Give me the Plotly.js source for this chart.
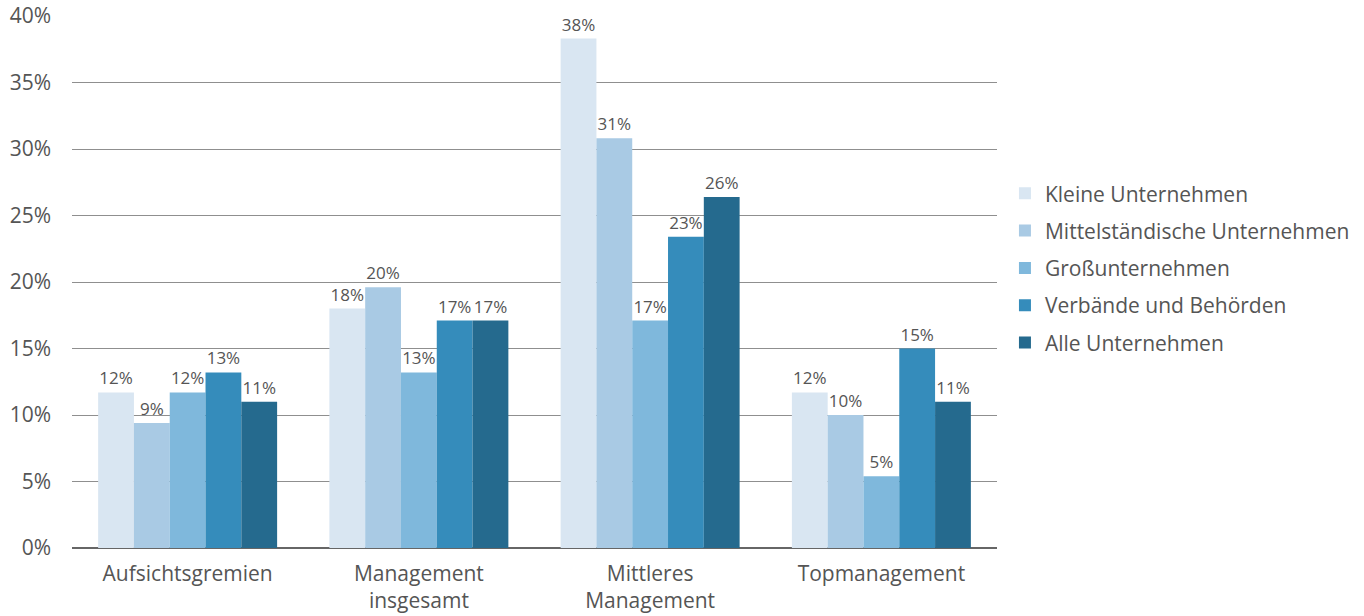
<!DOCTYPE html>
<html>
<head>
<meta charset="utf-8">
<script src="https://cdn.plot.ly/plotly-3.0.1.min.js"></script>
<style>html,body{margin:0;padding:0;background:#fff;}#chart{width:1364px;height:616px;}</style>
</head>
<body>
<div id="chart"></div>
<script>
const categories = ["Aufsichtsgremien", "Management<br>insgesamt", "Mittleres<br>Management", "Topmanagement"];
const seriesNames = ["Kleine Unternehmen", "Mittelständische Unternehmen", "Großunternehmen", "Verbände und Behörden", "Alle Unternehmen"];
const kleine = [11.7, 18.0, 38.3, 11.7];
const mittel = [9.4, 19.6, 30.8, 10.0];
const gross = [11.7, 13.2, 17.1, 5.4];
const verbaende = [13.2, 17.1, 23.4, 15.0];
const alle = [11.0, 17.1, 26.4, 11.0];
const colors = ["#d9e6f2", "#a9cae4", "#7fb8dc", "#358cbb", "#256a8e"];
const yTicks = [0, 5, 10, 15, 20, 25, 30, 35, 40];

const FONT = "Open Sans, sans-serif";
const seriesData = [kleine, mittel, gross, verbaende, alle];
const traces = seriesData.map((vals, i) => ({
  type: "bar",
  name: seriesNames[i],
  x: categories,
  y: vals,
  text: vals.map(v => Math.round(v) + "%"),
  textposition: "outside",
  textfont: {family: FONT, size: 17, color: "#555"},
  cliponaxis: false,
  constraintext: "none",
  marker: {color: colors[i], line: {width: 0}},
  legendgroup: "g" + i,
  hoverinfo: "x+y"
}));

const layout = {
  width: 1364,
  height: 616,
  margin: {l: 72, r: 367, t: 16, b: 68, autoexpand: false},
  paper_bgcolor: "#fff",
  plot_bgcolor: "#fff",
  barmode: "group",
  bargap: 0.226,
  bargroupgap: 0,
  font: {family: FONT, color: "#555", size: 21},
  xaxis: {
    tickfont: {family: FONT, size: 21, color: "#555"},
    showline: false,
    ticks: "",
    ticklabelstandoff: 11,
    fixedrange: true
  },
  yaxis: {
    range: [0, 40],
    tickvals: yTicks,
    ticktext: yTicks.map(v => v + "%"),
    tickfont: {family: FONT, size: 21, color: "#555"},
    showgrid: true,
    gridcolor: "#8f8f8f",
    gridwidth: 1,
    zeroline: true,
    zerolinecolor: "#666",
    zerolinewidth: 2,
    ticks: "",
    ticklabelstandoff: 20,
    fixedrange: true
  },
  legend: {
    x: 1.0086,
    xanchor: "left",
    y: 0.526,
    yanchor: "middle",
    font: {family: FONT, size: 21, color: "#555"},
    traceorder: "grouped",
    tracegroupgap: 7,
    bgcolor: "rgba(0,0,0,0)"
  },
  showlegend: true
};

Plotly.newPlot("chart", traces, layout, {displayModeBar: false});
</script>
</body>
</html>
